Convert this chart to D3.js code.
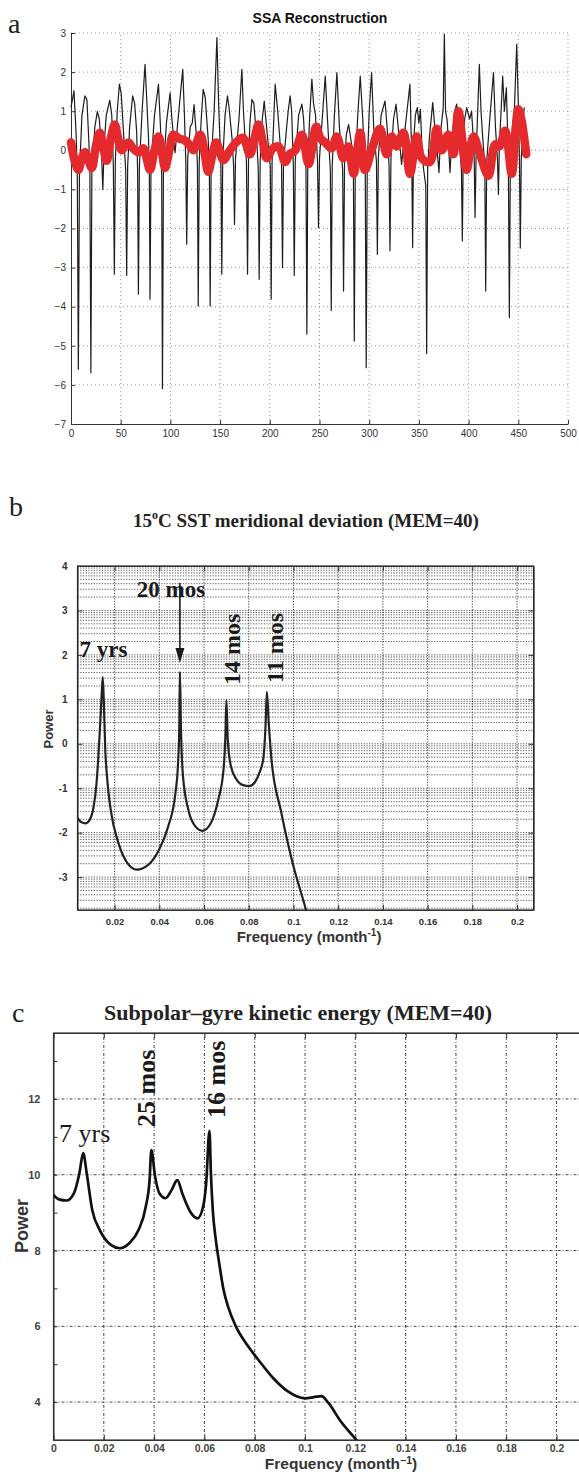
<!DOCTYPE html>
<html>
<head>
<meta charset="UTF-8">
<title>SSA reconstruction and MEM spectra</title>
<style>
  body { margin: 0; background: #fff; }
  svg { display: block; }
</style>
</head>
<body>
<div id="chart"></div>
<script src="https://d3js.org/d3.v7.min.js"></script>
<script>
// ---- panel a : SSA reconstruction (month, value) ----
var ssaTicksX = [0, 50, 100, 150, 200, 250, 300, 350, 400, 450, 500];
var ssaTicksY = [-7, -6, -5, -4, -3, -2, -1, 0, 1, 2, 3];
var ssaObserved = [
  [0,1.1],[3,1.52],[5,0.5],[6.3,-0.5],[7.4,-5.6],[8.5,-0.6],[11,0.9],[14,1.39],[16,1.3],[18,0.2],
  [19,-0.6],[20,-5.69],[21,-0.5],[24,0.6],[26.5,0.99],[28.5,0.8],[30.5,0.1],[32,-1.0],[33.5,0.2],[35.5,0.9],
  [39,1.28],[41,0.9],[42.6,-0.4],[43.6,-3.17],[44.6,-0.3],[46.5,1.0],[48.7,1.69],[50.5,1.45],[52.5,0.6],[55,-0.5],
  [56,-3.2],[57,-0.4],[59,0.6],[62,1.39],[64,1.2],[66,0.5],[67,-0.5],[67.8,-3.68],[68.8,-0.4],[71.5,1.0],
  [74.5,2.2],[76,1.4],[78,0.3],[78.8,-0.5],[79.5,-3.81],[80.5,-0.4],[84,0.9],[88,1.69],[90,0.6],[91.2,-0.5],
  [92,-6.1],[93,-0.5],[96,0.7],[99.7,1.47],[101.5,0.8],[104.7,-0.06],[107,0.6],[112.4,2.07],[114,1.0],[115.5,-0.3],
  [116.4,-2.4],[117.4,-0.2],[120,0.6],[122,0.7],[123.8,1.17],[126,0.4],[127.2,-0.4],[128,-3.98],[129,-0.3],[131,0.8],
  [133,1.56],[135,1.35],[138,0.3],[139.2,-0.5],[140,-3.98],[141,-0.3],[144,1.0],[146.8,2.88],[148.5,1.2],[150.8,-0.4],
  [151.7,-3.17],[152.6,-0.3],[155,0.9],[157.4,1.39],[159,1.1],[162,0.3],[163.6,-0.4],[164.5,-1.9],[165.5,-0.2],[169,0.8],
  [171.9,2.07],[173.5,1.0],[176.5,-0.3],[177.6,-3.17],[178.6,-0.2],[180,0.7],[182,1.3],[184,1.2],[187,0.2],[188.4,-0.5],
  [189.3,-3.3],[190.3,-0.3],[192.5,0.8],[194.4,1.26],[196,0.8],[200.5,-0.4],[201.4,-3.81],[202.3,-0.3],[205.4,1.69],[208,1.0],
  [211.8,-0.3],[212.8,-3.0],[213.8,-0.3],[217,0.6],[218.5,1.0],[220.5,1.39],[222,1.0],[223.7,-0.4],[224.6,-3.2],[225.6,-0.3],
  [229,0.9],[232.3,1.18],[234,0.8],[236.4,-0.5],[237.3,-4.7],[238.2,-0.4],[240,0.8],[242.3,1.82],[244,1.2],[246,0.9],
  [248,-0.3],[249,-1.98],[250,-0.2],[253,0.9],[255.8,1.9],[258,0.8],[260.9,-0.5],[261.8,-4.1],[262.8,-0.4],[265,0.9],
  [267.5,1.99],[270,0.6],[273.3,-0.5],[274.2,-3.6],[275.2,-0.3],[277,0.4],[279.3,0.66],[282,0.2],[284.1,-0.5],[285,-4.88],
  [286,-0.4],[288.5,0.9],[291,1.9],[293.5,0.8],[296,-0.5],[297,-5.56],[298,-0.4],[300,1.0],[302.4,1.99],[304.5,0.6],
  [307.3,-0.3],[308.2,-2.66],[309.2,-0.2],[312,0.9],[315.9,1.26],[318,0.6],[320,-0.4],[320.9,-2.57],[321.9,-0.2],[324.5,0.8],
  [327,1.18],[329.5,0.5],[332.6,-0.36],[335,0.3],[338,1.0],[341,1.69],[342.8,-0.2],[343.7,-2.49],[344.6,0.2],[346.5,0.9],
  [348.4,1.09],[350,0.7],[351.5,1.05],[353,0.1],[354.5,-0.44],[356.9,-0.9],[357.8,-5.2],[358.8,-0.5],[360.5,0.3],[363.9,1.22],
  [366,0.6],[368,0.1],[370.2,-0.57],[372,0.5],[374.5,1.1],[375.6,2.97],[376.8,1.0],[378.5,0.75],[381.3,-0.57],[383,0.2],
  [386,1.0],[388,1.18],[390,0.4],[392.8,-0.5],[393.7,-2.32],[394.6,0.0],[396,0.8],[398.1,1.09],[401,0.8],[403,1.0],
  [405.5,0.0],[406.5,-1.72],[407.5,-0.2],[409,0.9],[410.8,2.2],[412.5,1.0],[414,0.4],[416.3,-0.4],[417.2,-3.6],[418.2,-0.3],
  [421,0.7],[425,1.99],[427,0.6],[429,-0.2],[430,-1.13],[431,0.2],[432.5,0.9],[434.3,1.9],[436,1.0],[438,1.6],
  [440,-0.3],[441,-4.28],[442,-0.3],[444,0.6],[446,1.0],[448.4,2.71],[450,1.2],[451.2,-0.3],[452,-2.5],[453,-0.2],
  [455,0.8],[456,1.1]
];
var ssaReconstructed = [
  [0,0.2],[4,-0.3],[7.4,-0.5],[11,-0.2],[14,-0.05],[17.5,-0.25],[21,-0.45],[25,0.1],[29,0.45],[32.5,0.05],
  [36,-0.27],[40,0.3],[44,0.66],[47.5,0.3],[51,0.0],[55,0.15],[58,0.2],[61,0.1],[64.5,0.0],[68,-0.05],
  [72.7,0.05],[76,-0.2],[79.5,-0.5],[84,0.0],[88,0.35],[91.5,-0.05],[94.6,-0.45],[99,0.0],[103,0.4],[109,0.3],
  [114.7,0.25],[119,0.15],[123,0.0],[130,0.4],[134,0.0],[138,-0.55],[142,-0.15],[146,0.2],[149.5,0.0],[153.4,-0.25],
  [160,0.0],[166,0.2],[173,0.32],[180,-0.1],[184.5,0.3],[188.7,0.66],[193,0.2],[197,-0.2],[203,0.05],[208.8,0.1],
  [215.5,-0.3],[220,-0.1],[225.6,0.0],[232.3,0.4],[239,-0.35],[246.7,0.6],[251,0.3],[255.8,0.2],[262,0.05],[267.5,0.35],
  [274,-0.2],[279,0.1],[284.3,-0.6],[291,0.45],[295.7,-0.5],[302.4,0.0],[310.8,0.55],[317.5,-0.1],[322.6,0.35],[327.6,0.1],
  [334.3,0.45],[341,-0.6],[347.7,0.35],[352.8,-0.2],[361.2,-0.3],[367.9,0.55],[373,0.0],[379.6,0.4],[384.7,-0.1],[389.7,1.0],
  [394,0.2],[398,-0.5],[404.8,0.35],[411.5,-0.1],[420,-0.65],[426.6,0.15],[431,0.1],[436.7,0.5],[443.4,-0.6],[447,0.4],
  [450,1.05],[453,0.8],[456,0.3],[458,-0.1]
];

// ---- panel b : 15C SST meridional deviation, MEM spectrum ----
var sstTicksX = [0.02, 0.04, 0.06, 0.08, 0.1, 0.12, 0.14, 0.16, 0.18, 0.2];
var sstTicksY = [-3, -2, -1, 0, 1, 2, 3, 4];
var sstSpectrum = [
  [0.0034,-1.67],[0.005,-1.76],[0.0071,-1.79],[0.009,-1.7],[0.0105,-1.45],[0.0118,-0.95],[0.0126,-0.4],[0.0135,0.4],
  [0.0142,1.1],[0.0147,1.5],[0.0152,0.9],[0.0158,-0.1],[0.0167,-0.8],[0.0183,-1.5],[0.0217,-2.23],[0.0258,-2.69],
  [0.0299,-2.83],[0.0349,-2.73],[0.0398,-2.39],[0.0439,-1.87],[0.0472,-1.11],[0.0483,-0.5],[0.0489,0.3],[0.0492,1.62],
  [0.0497,0.3],[0.0506,-0.74],[0.053,-1.49],[0.0563,-1.87],[0.0593,-1.96],[0.063,-1.79],[0.0663,-1.27],[0.0687,-0.59],
  [0.0695,0.1],[0.07,0.98],[0.0706,0.1],[0.072,-0.5],[0.0745,-0.8],[0.0775,-0.93],[0.0803,-0.95],[0.0828,-0.86],[0.0848,-0.65],
  [0.0866,-0.3],[0.0875,0.4],[0.0881,1.17],[0.0889,0.5],[0.0902,-0.37],[0.0943,-1.49],[0.0993,-2.62],[0.1056,-3.74],[0.108,-4.2]
];
var sstLabels = [
  { text: "7 yrs", f: 0.0043, p: 1.95, vertical: false },
  { text: "20 mos", f: 0.0299, p: 3.3, vertical: false },
  { text: "14 mos", f: 0.0761, p: 1.32, vertical: true },
  { text: "11 mos", f: 0.0951, p: 1.37, vertical: true }
];
var sstArrow = { f: 0.0492, from: 3.62, to: 1.82 };

// ---- panel c : subpolar-gyre kinetic energy, MEM spectrum ----
var keTicksX = [0, 0.02, 0.04, 0.06, 0.08, 0.1, 0.12, 0.14, 0.16, 0.18, 0.2];
var keTicksY = [3, 4, 5, 6, 7, 8, 9, 10, 11, 12, 13];
var keGridY = [4, 6, 8, 10, 12];
var keSpectrum = [
  [0,9.47],[0.0022,9.35],[0.0052,9.32],[0.0081,9.51],[0.0103,10.04],[0.0118,10.57],[0.0132,10.04],[0.0154,9.07],
  [0.0184,8.54],[0.0228,8.15],[0.0264,8.06],[0.0301,8.19],[0.0338,8.54],[0.0367,9.16],[0.0382,9.86],[0.0389,10.65],
  [0.0404,9.95],[0.0421,9.51],[0.0445,9.38],[0.047,9.6],[0.0492,9.86],[0.0514,9.47],[0.0543,9.03],[0.0573,8.85],
  [0.0595,9.16],[0.0607,9.78],[0.062,11.16],[0.0626,10.0],[0.0634,9.0],[0.0645,8.3],[0.0658,7.7],[0.0675,7.0],
  [0.0695,6.5],[0.0725,6.0],[0.0771,5.5],[0.0815,5.11],[0.0874,4.63],[0.0932,4.28],[0.0999,4.1],[0.1035,4.13],[0.1065,4.16],
  [0.1094,3.97],[0.1138,3.53],[0.1204,3.0],[0.125,2.6]
];
var keLabels = [
  { text: "7 yrs", f: 0.0022, p: 10.87, vertical: false },
  { text: "25 mos", f: 0.0404, p: 11.26, vertical: true },
  { text: "16 mos", f: 0.0682, p: 11.5, vertical: true }
];

var serif = "'Liberation Serif', 'Times New Roman', serif";
var sans = "'Liberation Sans', Arial, Helvetica, sans-serif";

var svg = d3.select("#chart").append("svg")
  .attr("width", 579)
  .attr("height", 1474)
  .style("background", "#fff");

function styleAxis(g, size, weight, color) {
  g.attr("font-family", sans).attr("font-size", size).attr("font-weight", weight);
  g.selectAll("text").attr("fill", color);
  g.selectAll("line").attr("stroke", "#333");
  g.select(".domain").attr("stroke", "#333");
}

function hLines(g, values, scaleY, x1, x2, dash, color, width) {
  g.append("g").selectAll("line").data(values).join("line")
    .attr("x1", x1).attr("x2", x2)
    .attr("y1", d => scaleY(d)).attr("y2", d => scaleY(d))
    .attr("stroke", color).attr("stroke-width", width).attr("stroke-dasharray", dash);
}
function vLines(g, values, scaleX, y1, y2, dash, color, width) {
  g.append("g").selectAll("line").data(values).join("line")
    .attr("y1", y1).attr("y2", y2)
    .attr("x1", d => scaleX(d)).attr("x2", d => scaleX(d))
    .attr("stroke", color).attr("stroke-width", width).attr("stroke-dasharray", dash);
}

function panelLetter(t, x, y) {
  svg.append("text").attr("x", x).attr("y", y)
    .attr("font-family", serif).attr("font-size", 28).attr("fill", "#222").text(t);
}

// ================= panel a =================
var xA = d3.scaleLinear().domain([0, 500]).range([71, 568]);
var yA = d3.scaleLinear().domain([-7, 3]).range([424, 33]);
var gA = svg.append("g");

vLines(gA, ssaTicksX.filter(d => d > 0), xA, yA(-7), yA(3), "1,3", "#8c8c8c", 0.9);
hLines(gA, ssaTicksY.filter(d => d > -7), yA, xA(0), xA(500), "1,3", "#8c8c8c", 0.9);

gA.append("g").attr("transform", "translate(0," + yA(-7) + ")")
  .call(d3.axisBottom(xA).tickValues(ssaTicksX).tickSizeInner(-4).tickSizeOuter(0).tickPadding(6).tickFormat(d3.format("d")))
  .call(g => styleAxis(g, 10, "normal", "#333"));
gA.append("g").attr("transform", "translate(" + xA(0) + ",0)")
  .call(d3.axisLeft(yA).tickValues(ssaTicksY).tickSizeInner(-4).tickSizeOuter(0).tickPadding(5))
  .call(g => styleAxis(g, 10, "normal", "#333"));

var lineA = d3.line().x(d => xA(d[0])).y(d => yA(d[1]));
gA.append("path").datum(ssaObserved)
  .attr("d", lineA).attr("fill", "none")
  .attr("stroke", "#1e1e1e").attr("stroke-width", 1.2).attr("stroke-linejoin", "round");
gA.append("path").datum(ssaReconstructed)
  .attr("d", lineA.curve(d3.curveCatmullRom.alpha(0.5))).attr("fill", "none")
  .attr("stroke", "#e52a2e").attr("stroke-width", 8.5)
  .attr("stroke-linejoin", "round").attr("stroke-linecap", "round");

svg.append("text").attr("x", 320).attr("y", 23).attr("text-anchor", "middle")
  .attr("font-family", sans).attr("font-weight", "bold").attr("font-size", 14)
  .attr("fill", "#111").text("SSA Reconstruction");
panelLetter("a", 8, 33);

// ================= panel b =================
var xB = d3.scaleLinear().domain([0.0034, 0.2074]).range([77.5, 533.6]);
var yB = d3.scaleLinear().domain([-3.74, 4]).range([910, 566]);
var gB = svg.append("g");

// log-style grid: lines at n + log10(k)
var sstGridY = [];
d3.range(-4, 4).forEach(function (n) {
  d3.range(1, 10).forEach(function (k) {
    var v = n + Math.log10(k);
    if (v > -3.74 && v < 4) sstGridY.push(v);
  });
});
hLines(gB, sstGridY, yB, xB.range()[0], xB.range()[1], "1.3,1.4", "#3a3a3a", 0.8);
vLines(gB, sstTicksX, xB, yB(-3.74), yB(4), "1.3,1.4", "#333", 0.9);

gB.append("rect").attr("x", 77.5).attr("y", 566).attr("width", 533.6 - 77.5).attr("height", 910 - 566)
  .attr("fill", "none").attr("stroke", "#222").attr("stroke-width", 1.2);

gB.append("g").attr("transform", "translate(0,910)")
  .call(d3.axisBottom(xB).tickValues(sstTicksX).tickSizeInner(-5).tickSizeOuter(0).tickPadding(8).tickFormat(d3.format("~g")))
  .call(g => styleAxis(g, 9.5, "bold", "#333"));
gB.append("g").attr("transform", "translate(0,566)")
  .call(d3.axisTop(xB).tickValues(sstTicksX).tickSizeInner(-5).tickSizeOuter(0).tickFormat(""))
  .call(g => styleAxis(g, 9.5, "bold", "#333"));
gB.append("g").attr("transform", "translate(77.5,0)")
  .call(d3.axisLeft(yB).tickValues(sstTicksY).tickSizeInner(-5).tickSizeOuter(0).tickPadding(10).tickFormat(d3.format("d")))
  .call(g => styleAxis(g, 10, "bold", "#333"));
gB.append("g").attr("transform", "translate(533.6,0)")
  .call(d3.axisRight(yB).tickValues(sstTicksY).tickSizeInner(-5).tickSizeOuter(0).tickFormat(""))
  .call(g => styleAxis(g, 10, "bold", "#333"));
gB.selectAll(".tick text").filter(function () { return this.textContent.charAt(0) === "\u2212"; })
  .text(function () { return "-" + this.textContent.slice(1); });

svg.append("clipPath").attr("id", "clipB").append("rect")
  .attr("x", 77.5).attr("y", 566).attr("width", 533.6 - 77.5).attr("height", 910 - 566);
gB.append("path").datum(sstSpectrum)
  .attr("clip-path", "url(#clipB)")
  .attr("d", d3.line().x(d => xB(d[0])).y(d => yB(d[1])).curve(d3.curveMonotoneX))
  .attr("fill", "none").attr("stroke", "#222").attr("stroke-width", 2.2).attr("stroke-linejoin", "round");

sstLabels.forEach(function (l) {
  var t = gB.append("text").attr("font-family", serif).attr("font-weight", "bold")
    .attr("fill", "#1a1a1a").text(l.text);
  if (l.vertical) {
    t.attr("font-size", 24).attr("transform", "translate(" + xB(l.f) + "," + yB(l.p) + ") rotate(-90)");
  } else {
    t.attr("font-size", 23).attr("x", xB(l.f)).attr("y", yB(l.p));
  }
});
var ax = xB(sstArrow.f), ay1 = yB(sstArrow.from), ay2 = yB(sstArrow.to);
gB.append("line").attr("x1", ax).attr("x2", ax).attr("y1", ay1).attr("y2", ay2 - 12)
  .attr("stroke", "#1a1a1a").attr("stroke-width", 1.6);
gB.append("path").attr("d", "M" + (ax - 4.5) + "," + (ay2 - 15) + "L" + (ax + 4.5) + "," + (ay2 - 15) + "L" + ax + "," + ay2 + "Z")
  .attr("fill", "#1a1a1a");

var titleB = svg.append("text").attr("x", 306).attr("y", 527).attr("text-anchor", "middle")
  .attr("font-family", serif).attr("font-weight", "bold").attr("font-size", 19).attr("fill", "#222");
titleB.append("tspan").text("15");
titleB.append("tspan").attr("font-size", 12).attr("dy", -8).text("o");
titleB.append("tspan").attr("dy", 8).text("C SST meridional deviation (MEM=40)");

var xlabB = svg.append("text").attr("x", 309).attr("y", 942).attr("text-anchor", "middle")
  .attr("font-family", sans).attr("font-weight", "bold").attr("font-size", 15).attr("fill", "#333");
xlabB.append("tspan").text("Frequency (month");
xlabB.append("tspan").attr("font-size", 10).attr("dy", -6).text("-1");
xlabB.append("tspan").attr("dy", 6).text(")");

svg.append("text").attr("transform", "translate(53,729) rotate(-90)").attr("text-anchor", "middle")
  .attr("font-family", sans).attr("font-weight", "bold").attr("font-size", 13).attr("fill", "#333").text("Power");
panelLetter("b", 9, 516);

// ================= panel c =================
var xC = d3.scaleLinear().domain([0, 0.21]).range([53.5, 581.7]);
var yC = d3.scaleLinear().domain([3, 13.74]).range([1440, 1033]);
var gC = svg.append("g");

vLines(gC, keTicksX.filter(d => d > 0), xC, yC(3), yC(13.74), "3,2,1,2", "#333", 0.9);
hLines(gC, keGridY, yC, xC(0), xC(0.21), "3,2,1,2", "#333", 0.9);

gC.append("rect").attr("x", 53.5).attr("y", 1033).attr("width", 581.7 - 53.5).attr("height", 1440 - 1033)
  .attr("fill", "none").attr("stroke", "#333").attr("stroke-width", 1.2);

gC.append("g").attr("transform", "translate(0,1440)")
  .call(d3.axisBottom(xC).tickValues(keTicksX).tickSizeInner(-5).tickSizeOuter(0).tickPadding(5).tickFormat(d3.format("~g")))
  .call(g => styleAxis(g, 10.5, "bold", "#444"));
gC.append("g").attr("transform", "translate(0,1033)")
  .call(d3.axisTop(xC).tickValues(keTicksX).tickSizeInner(-5).tickSizeOuter(0).tickFormat(""))
  .call(g => styleAxis(g, 10.5, "bold", "#444"));
gC.append("g").attr("transform", "translate(53.5,0)")
  .call(d3.axisLeft(yC).tickValues(keTicksY).tickSizeInner(-4).tickSizeOuter(0).tickPadding(13)
    .tickFormat(d => d % 2 === 0 ? d : ""))
  .call(g => styleAxis(g, 11, "bold", "#444"));

svg.append("clipPath").attr("id", "clipC").append("rect")
  .attr("x", 53.5).attr("y", 1033).attr("width", 581.7 - 53.5).attr("height", 1440 - 1033);
gC.append("path").datum(keSpectrum)
  .attr("clip-path", "url(#clipC)")
  .attr("d", d3.line().x(d => xC(d[0])).y(d => yC(d[1])).curve(d3.curveMonotoneX))
  .attr("fill", "none").attr("stroke", "#111").attr("stroke-width", 2.7).attr("stroke-linejoin", "round");

keLabels.forEach(function (l) {
  var t = gC.append("text").attr("font-family", serif).attr("fill", "#1a1a1a").text(l.text);
  if (l.vertical) {
    t.attr("font-size", 26).attr("font-weight", "bold")
      .attr("transform", "translate(" + xC(l.f) + "," + yC(l.p) + ") rotate(-90)");
  } else {
    t.attr("font-size", 26).attr("x", xC(l.f)).attr("y", yC(l.p));
  }
});

svg.append("text").attr("x", 298).attr("y", 1020).attr("text-anchor", "middle")
  .attr("font-family", serif).attr("font-weight", "bold").attr("font-size", 22).attr("fill", "#222")
  .text("Subpolar\u2013gyre kinetic energy (MEM=40)");

var xlabC = svg.append("text").attr("x", 341).attr("y", 1469).attr("text-anchor", "middle")
  .attr("font-family", sans).attr("font-weight", "bold").attr("font-size", 15.5).attr("fill", "#333");
xlabC.append("tspan").text("Frequency (month");
xlabC.append("tspan").attr("font-size", 10.5).attr("dy", -5).text("\u22121");
xlabC.append("tspan").attr("dy", 5).text(")");

svg.append("text").attr("transform", "translate(28,1226) rotate(-90)").attr("text-anchor", "middle")
  .attr("font-family", sans).attr("font-weight", "bold").attr("font-size", 18).attr("fill", "#333").text("Power");
panelLetter("c", 12, 1022);
</script>
</body>
</html>
